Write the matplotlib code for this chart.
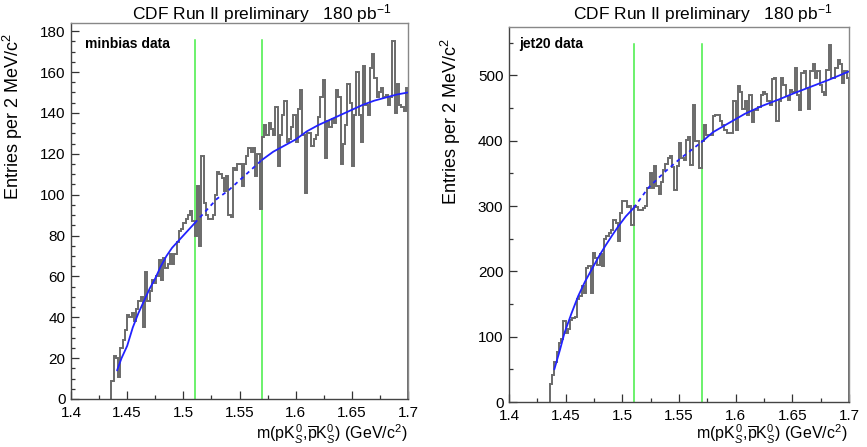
import numpy as np
import matplotlib
matplotlib.use("Agg")
import matplotlib.pyplot as plt
from matplotlib.ticker import MultipleLocator, AutoMinorLocator, FuncFormatter

plt.rcParams['font.family'] = ['Liberation Sans', 'DejaVu Sans']
plt.rcParams['mathtext.fontset'] = 'custom'
plt.rcParams['mathtext.rm'] = 'Liberation Sans'
plt.rcParams['mathtext.it'] = 'Liberation Sans:italic'
plt.rcParams['mathtext.bf'] = 'Liberation Sans:bold'

# ---------------- data ----------------
hist_range = [1.436, 1.700]          # 2 MeV bins
minbias_counts = [
    9, 21, 20, 11, 25, 29, 34, 41, 40, 42, 38, 44, 48, 50, 35, 62, 48, 53, 58, 57,
    60, 68, 58, 69, 64, 66, 71, 66, 71, 77, 82, 83, 86, 88, 90, 92, 87,
    80, 104, 75, 119, 96, 90, 88, 88, 90, 100, 111, 110, 108, 102, 109, 90, 89, 113, 112, 115,
    115, 104, 115, 119, 123, 121, 123, 109, 120, 93,
    128, 134, 129, 135, 132, 129, 143, 114, 129, 139, 146, 126, 127, 133, 139, 126, 142, 151, 129, 101,
    130, 130, 124, 127, 129, 138, 148, 156, 118, 136, 133, 137, 135, 151, 148, 115, 125, 134, 154, 145,
    114, 139, 160, 139, 126, 163, 144, 139, 162, 169, 157, 148, 150, 152, 148, 149, 144, 148, 175, 140,
    154, 144, 143, 141, 152,
]
jet20_counts = [
    27, 42, 61, 76, 91, 96, 124, 106, 111, 126, 128, 130, 157, 162, 178, 167, 205, 208, 167, 228,
    220, 210, 226, 208, 249, 254, 259, 264, 279, 274, 247, 290, 307, 307, 299, 300, 271, 300, 299, 294,
    294, 297, 300, 328, 350, 328, 361, 330, 318, 336, 355, 365, 373, 376, 360, 324, 361, 396, 373, 370,
    401, 406, 363, 455, 400, 400, 358, 399, 424, 409, 409, 409, 438, 440, 440, 430, 424, 416, 412, 412,
    412, 460, 416, 483, 475, 449, 460, 440, 470, 429, 447, 447, 452, 470, 475, 472, 460, 455, 494, 496,
    430, 460, 496, 485, 468, 463, 478, 475, 511, 470, 447, 503, 506, 480, 449, 506, 518, 496, 506, 485,
    475, 470, 508, 547, 496, 496, 511, 523, 518, 488, 506, 496,
]
minbias_fit_m = [1.441, 1.445, 1.450, 1.455, 1.460, 1.465, 1.470, 1.475, 1.480, 1.485, 1.490, 1.495,
                 1.500, 1.510, 1.520, 1.530, 1.540, 1.550, 1.560, 1.570, 1.580, 1.590, 1.600, 1.610,
                 1.620, 1.630, 1.640, 1.650, 1.660, 1.670, 1.680, 1.690, 1.700]
minbias_fit_y = [14, 20, 26, 35, 42, 48, 54, 59, 65, 70, 74, 77,
                 80, 86, 92, 98, 102, 107, 112, 117, 121, 124, 127, 131,
                 134, 136.5, 139, 141.5, 144, 146, 147.5, 149, 150]
jet20_fit_m = [1.440, 1.445, 1.449, 1.455, 1.461, 1.467, 1.473, 1.479, 1.485, 1.491, 1.4965, 1.503,
               1.510, 1.523, 1.538, 1.550, 1.570, 1.580, 1.594, 1.608, 1.623, 1.638, 1.652, 1.667,
               1.682, 1.700]
jet20_fit_y = [50, 80, 106, 135, 162, 184, 203, 222, 239, 255, 269, 284,
               297, 328, 353, 371, 398, 413, 427, 441, 453, 463, 473, 483,
               493, 506]
signal_window = [1.51, 1.57]
x_ticks = [1.40, 1.45, 1.50, 1.55, 1.60, 1.65, 1.70]
title_text = r'CDF Run II preliminary   180 pb$^{-1}$'
ylabel_text = r'Entries per 2 MeV/c$^{2}$'
xlabel_text = r'm(pK$^{\,0}_{S}$,$\overline{\mathrm{p}}$K$^{0}_{S}$) (GeV/c$^{2}$)'

# ---------------- figure ----------------
W, H = 867, 447
fig = plt.figure(figsize=(W / 100, H / 100), dpi=100)
fig.patch.set_facecolor('white')


def box(x0, y0, x1, y1):
    return [x0 / W, 1 - y1 / H, (x1 - x0) / W, (y1 - y0) / H]


ax1 = fig.add_axes(box(71, 23, 408, 399))
ax2 = fig.add_axes(box(509, 27, 849, 402))

panels = [
    (ax1, minbias_counts, minbias_fit_m, minbias_fit_y, 184, 20, 4, 'minbias data', 85),
    (ax2, jet20_counts, jet20_fit_m, jet20_fit_y, 574, 100, 2, 'jet20 data', 519),
]

for ax, counts, fm, fy, ytop, ymaj, yminor, label, lx in panels:
    counts = np.asarray(counts, dtype=float)
    edges = np.linspace(hist_range[0], hist_range[1], len(counts) + 1)
    for xw in signal_window:
        ax.axvline(xw, ymin=0, ymax=0.955, color='#44ee44', lw=1.1, zorder=1)
    ax.stairs(counts, edges, baseline=0, color='#6a6a6a', lw=1.4, zorder=2)
    fm = np.asarray(fm)
    fy = np.asarray(fy)
    lo, hi = signal_window
    m1 = fm <= lo
    m2 = (fm >= lo) & (fm <= hi)
    m3 = fm >= hi
    ax.plot(fm[m1], fy[m1], color='#2222ff', lw=1.3, zorder=3, solid_capstyle='round')
    ax.plot(fm[m2], fy[m2], color='#2222ff', lw=1.3, zorder=3, linestyle=(0, (2.2, 2.2)))
    ax.plot(fm[m3], fy[m3], color='#2222ff', lw=1.3, zorder=3, solid_capstyle='round')

    ax.set_xlim(1.4, 1.7)
    ax.set_ylim(0, ytop)
    ax.set_xticks(x_ticks)
    ax.xaxis.set_major_formatter(FuncFormatter(lambda v, p: f'{v:g}'))
    ax.xaxis.set_minor_locator(AutoMinorLocator(2))
    ax.yaxis.set_major_locator(MultipleLocator(ymaj))
    ax.yaxis.set_minor_locator(AutoMinorLocator(yminor))
    ax.tick_params(which='both', direction='in', top=False, right=False, labelsize=11,
                   width=0.9, color='#333333')
    ax.tick_params(axis='x', which='both', pad=5)
    ax.tick_params(axis='y', which='both', pad=4)
    ax.tick_params(which='major', length=6)
    ax.tick_params(which='minor', length=3)
    for s in ax.spines.values():
        s.set_color('#444444')
        s.set_linewidth(1.0)
    ax.spines['top'].set_color('#888888')
    ax.spines['right'].set_color('#888888')
    fig.text(lx / W, 1 - 48 / H, label, fontsize=10, fontweight='bold', ha='left', va='baseline')

# titles
fig.text(132 / W, 1 - 19 / H, title_text, fontsize=12.5, ha='left', va='baseline')
fig.text(573 / W, 1 - 19 / H, title_text, fontsize=12.5, ha='left', va='baseline')

# y labels
fig.text(13 / W, 1 - 117 / H, ylabel_text, fontsize=13, rotation=90, ha='center', va='center')
fig.text(451 / W, 1 - 122 / H, ylabel_text, fontsize=13, rotation=90, ha='center', va='center')

# x labels
fig.text(407 / W, 1 - 439 / H, xlabel_text, fontsize=11.5, ha='right', va='baseline')
fig.text(847 / W, 1 - 440 / H, xlabel_text, fontsize=11.5, ha='right', va='baseline')

fig.savefig('out.png', dpi=100)
